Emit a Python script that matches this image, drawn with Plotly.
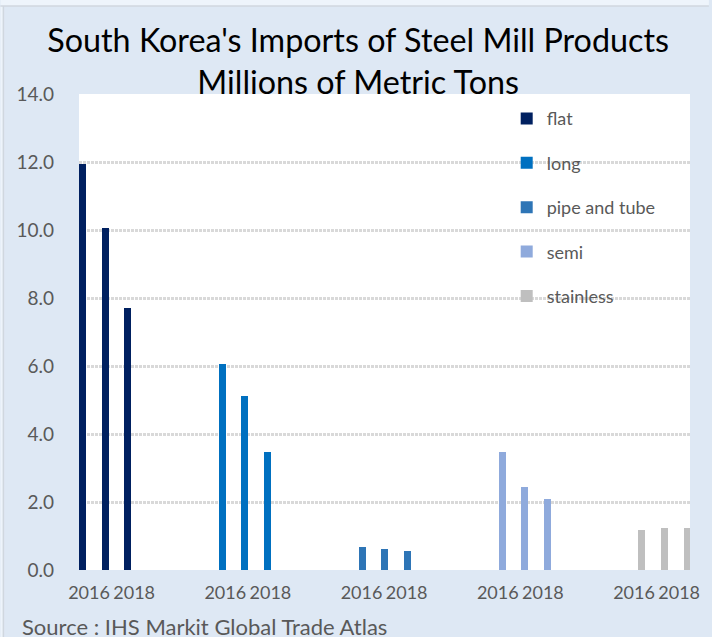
import plotly.graph_objects as go

# Import volumes, millions of metric tons
products = ["flat", "long", "pipe and tube", "semi", "stainless"]
years = ["2016", "2017", "2018"]
flat = [11.93, 10.06, 7.70]
long_ = [6.06, 5.12, 3.48]
pipe_and_tube = [0.67, 0.61, 0.55]
semi = [3.48, 2.43, 2.08]
stainless = [1.19, 1.24, 1.24]
year_labels = ["2016", "", "2018"]

series = [flat, long_, pipe_and_tube, semi, stainless]
colors = ["#002060", "#0070C0", "#2E75B6", "#8FAADC", "#BFBFBF"]

# layout of the clustered x positions
GROUP_STEP = 6.2      # distance between product clusters (in bar slots)
LABEL_STEP = 6.04     # year labels sit on a slightly tighter spacing
LABEL_OFFSET = 0.29

FONT = "Lato, 'Open Sans', sans-serif"
GRAY_TEXT = "#595959"

fig = go.Figure()
for g, (name, vals, col) in enumerate(zip(products, series, colors)):
    xs = [g * GROUP_STEP + j for j in range(len(years))]
    fig.add_trace(go.Bar(
        x=xs, y=vals, name=name, width=0.31,
        marker=dict(color=col, line=dict(width=0)),
        legendgroup=name,
        hovertext=[f"{name} {y}" for y in years],
    ))

tickvals, ticktext = [], []
for g in range(len(products)):
    for j, lab in enumerate(year_labels):
        if lab:
            tickvals.append(g * LABEL_STEP + j + LABEL_OFFSET)
            ticktext.append(lab)

grid_style = dict(gridcolor="#D9D9D9", gridwidth=2.5, griddash="3px,1px")

fig.update_layout(
    width=712, height=637,
    margin=dict(l=79, r=19, t=94, b=67, pad=0),
    paper_bgcolor="#DEE8F4",
    plot_bgcolor="#FFFFFF",
    font=dict(family=FONT, size=18, color=GRAY_TEXT),
    bargap=0,
    showlegend=True,
    title=dict(
        text="South Korea's Imports of Steel Mill Products<br>Millions of Metric Tons",
        x=0.503, xanchor="center", y=0.919, yanchor="top",
        font=dict(family=FONT, size=32.3, color="#000000"),
    ),
    legend=dict(
        x=0.70, xanchor="left", y=0.987, yanchor="top",
        bgcolor="rgba(0,0,0,0)",
        font=dict(family=FONT, size=18, color=GRAY_TEXT),
        tracegroupgap=18,
        itemclick=False,
    ),
    xaxis=dict(
        range=[-0.154, 26.93],
        tickvals=tickvals, ticktext=ticktext,
        showgrid=False, zeroline=False, showline=False,
        ticks="", ticklabelstandoff=10,
        tickfont=dict(family=FONT, size=18, color=GRAY_TEXT),
    ),
    yaxis=dict(
        range=[0, 14], dtick=2, tickformat=".1f",
        showgrid=True, zeroline=False, showline=False,
        ticks="", ticklabelstandoff=24,
        tickfont=dict(family=FONT, size=19, color=GRAY_TEXT),
        **grid_style,
    ),
    shapes=[
        # light frame strip along the top and left edge
        dict(type="rect", xref="paper", yref="paper", x0=-79/614, x1=(712-79)/614,
             y0=1 + 88/476, y1=1 + 94/476, fillcolor="#EEF4FB", line=dict(width=0), layer="below"),
        dict(type="line", xref="paper", yref="paper", x0=-79/614, x1=(712-79)/614,
             y0=1 + 88/476, y1=1 + 88/476, line=dict(color="#D0D7DF", width=1.5)),
        dict(type="rect", xref="paper", yref="paper", x0=-79/614, x1=-76/614,
             y0=-67/476, y1=1 + 88/476, fillcolor="#EEF4FB", line=dict(width=0), layer="below"),
        dict(type="line", xref="paper", yref="paper", x0=-76/614, x1=-76/614,
             y0=-67/476, y1=1 + 88/476, line=dict(color="#D0D7DF", width=1.5)),
    ],
    annotations=[
        dict(text="Source : IHS Markit Global Trade Atlas", xref="paper", yref="paper",
             x=-59/614, y=-56/476, xanchor="left", yanchor="middle", showarrow=False,
             font=dict(family=FONT, size=22, color=GRAY_TEXT)),
    ],
)

fig.write_html("out.html")
